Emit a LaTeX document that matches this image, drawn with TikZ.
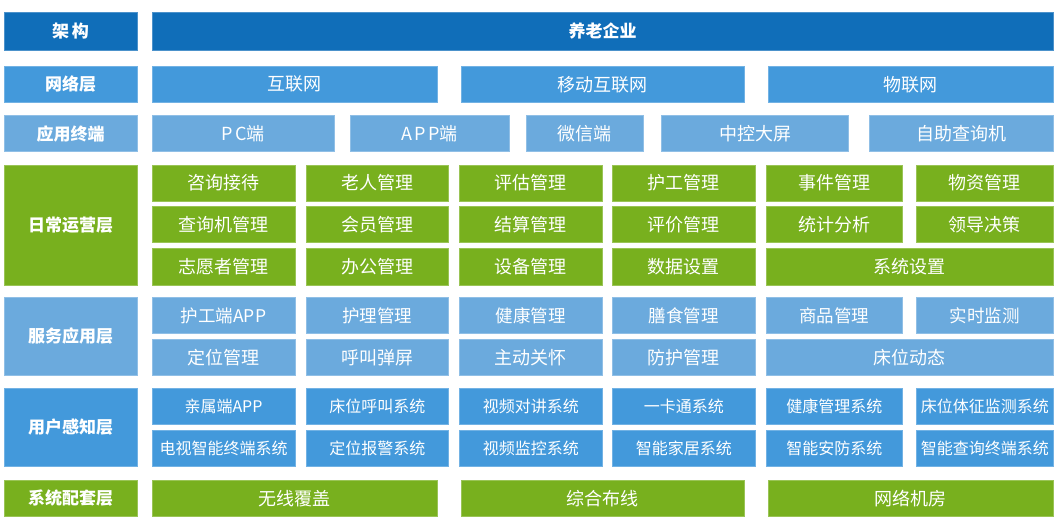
\documentclass[tikz,border=0pt]{standalone}
\usepackage{fontspec}
\setmainfont{Noto Sans CJK SC}
\definecolor{dkblue}{HTML}{106EB9}
\definecolor{mdblue}{HTML}{4399DB}
\definecolor{ltblue}{HTML}{6BAADD}
\definecolor{grn}{HTML}{78B01E}
\tikzset{
  cellbase/.style={inner sep=0pt, outer sep=0pt, text=white, line width=0.6pt, align=center},
  dk/.style={cellbase, fill=dkblue, draw=dkblue!75!white},
  md/.style={cellbase, fill=mdblue, draw=mdblue!75!white},
  lt/.style={cellbase, fill=ltblue, draw=ltblue!75!white},
  gr/.style={cellbase, fill=grn, draw=grn!75!white},
  lbl/.style={font=\fontsize{17}{17}\selectfont\bfseries},
  big/.style={font=\fontsize{18}{18}\selectfont},
  mid/.style={font=\fontsize{17.5}{17.5}\selectfont},
  sml/.style={font=\fontsize{16}{16}\selectfont}
}
\newcommand{\cel}[7]{%
  \pgfmathsetmacro{\cellW}{#3-#2}%
  \pgfmathsetmacro{\cellH}{#5-#4}%
  \node[#6, minimum width=\cellW pt, minimum height=\cellH pt] (#1) at ({(#2+#3)/2},{(#4+#5)/2}) {#7};}
\begin{document}
\begin{tikzpicture}[x=1pt,y=-1pt]
\useasboundingbox (0,0) rectangle (1057,523);
% left labels
\cel{L1}{4}{137}{12}{50.5}{dk,lbl}{架\,构}
\cel{L2}{4}{137}{66.5}{102}{md,lbl}{网络层}
\cel{L3}{4}{137}{115.5}{151.5}{lt,lbl}{应用终端}
\cel{L4}{4}{137}{165}{285}{gr,lbl}{日常运营层}
\cel{L5}{4}{137}{297.5}{375.5}{lt,lbl}{服务应用层}
\cel{L6}{4}{137}{388.5}{466}{md,lbl}{用户感知层}
\cel{L7}{4}{137}{480}{516.5}{gr,lbl}{系统配套层}
% top
\cel{T}{152}{1053}{12}{50.5}{dk,lbl}{养老企业}
% network
\cel{N1}{152}{437}{66.5}{102}{md,big}{互联网}
\cel{N2}{461}{744}{66.5}{102}{md,big}{移动互联网}
\cel{N3}{768}{1053}{66.5}{102}{md,big}{物联网}
% terminals
\cel{A1}{152}{334}{115.5}{151.5}{lt,big}{{\addfontfeature{LetterSpace=15}PC}端}
\cel{A2}{350}{509.5}{115.5}{151.5}{lt,big}{{\addfontfeature{LetterSpace=12}APP}端}
\cel{A3}{526}{643.5}{115.5}{151.5}{lt,big}{微信端}
\cel{A4}{661.5}{848.5}{115.5}{151.5}{lt,big}{中控大屏}
\cel{A5}{869}{1053}{115.5}{151.5}{lt,big}{自助查询机}
% daily operations
\cel{D11}{152}{295}{165}{201}{gr,big}{咨询接待}
\cel{D12}{306}{448.5}{165}{201}{gr,big}{老人管理}
\cel{D13}{459.5}{602}{165}{201}{gr,big}{评估管理}
\cel{D14}{612.5}{755}{165}{201}{gr,big}{护工管理}
\cel{D15}{766}{902.5}{165}{201}{gr,big}{事件管理}
\cel{D16}{916.5}{1053}{165}{201}{gr,big}{物资管理}
\cel{D21}{152}{295}{206.5}{242.5}{gr,big}{查询机管理}
\cel{D22}{306}{448.5}{206.5}{242.5}{gr,big}{会员管理}
\cel{D23}{459.5}{602}{206.5}{242.5}{gr,big}{结算管理}
\cel{D24}{612.5}{755}{206.5}{242.5}{gr,big}{评价管理}
\cel{D25}{766}{902.5}{206.5}{242.5}{gr,big}{统计分析}
\cel{D26}{916.5}{1053}{206.5}{242.5}{gr,big}{领导决策}
\cel{D31}{152}{295}{248}{285}{gr,big}{志愿者管理}
\cel{D32}{306}{448.5}{248}{285}{gr,big}{办公管理}
\cel{D33}{459.5}{602}{248}{285}{gr,big}{设备管理}
\cel{D34}{612.5}{755}{248}{285}{gr,big}{数据设置}
\cel{D35}{766}{1053}{248}{285}{gr,big}{系统设置}
% service applications
\cel{S11}{152}{295}{297.5}{333.5}{lt,mid}{护工端APP}
\cel{S12}{306}{448.5}{297.5}{333.5}{lt,mid}{护理管理}
\cel{S13}{459.5}{602}{297.5}{333.5}{lt,mid}{健康管理}
\cel{S14}{612.5}{755}{297.5}{333.5}{lt,mid}{膳食管理}
\cel{S15}{766}{902.5}{297.5}{333.5}{lt,mid}{商品管理}
\cel{S16}{916.5}{1053}{297.5}{333.5}{lt,mid}{实时监测}
\cel{S21}{152}{295}{339.5}{375.5}{lt,big}{定位管理}
\cel{S22}{306}{448.5}{339.5}{375.5}{lt,big}{呼叫弹屏}
\cel{S23}{459.5}{602}{339.5}{375.5}{lt,big}{主动关怀}
\cel{S24}{612.5}{755}{339.5}{375.5}{lt,big}{防护管理}
\cel{S25}{766}{1053}{339.5}{375.5}{lt,big}{床位动态}
% user perception
\cel{U11}{152}{295}{388.5}{424}{md,sml}{亲属端APP}
\cel{U12}{306}{448.5}{388.5}{424}{md,sml}{床位呼叫系统}
\cel{U13}{459.5}{602}{388.5}{424}{md,sml}{视频对讲系统}
\cel{U14}{612.5}{755}{388.5}{424}{md,sml}{一卡通系统}
\cel{U15}{766}{902.5}{388.5}{424}{md,sml}{健康管理系统}
\cel{U16}{916.5}{1053}{388.5}{424}{md,sml}{床位体征监测系统}
\cel{U21}{152}{295}{430}{466}{md,sml}{电视智能终端系统}
\cel{U22}{306}{448.5}{430}{466}{md,sml}{定位报警系统}
\cel{U23}{459.5}{602}{430}{466}{md,sml}{视频监控系统}
\cel{U24}{612.5}{755}{430}{466}{md,sml}{智能家居系统}
\cel{U25}{766}{902.5}{430}{466}{md,sml}{智能安防系统}
\cel{U26}{916.5}{1053}{430}{466}{md,sml}{智能查询终端系统}
% system support
\cel{Y1}{152}{437}{480}{516.5}{gr,big}{无线覆盖}
\cel{Y2}{461}{744}{480}{516.5}{gr,big}{综合布线}
\cel{Y3}{768}{1053}{480}{516.5}{gr,big}{网络机房}
\end{tikzpicture}
\end{document}
